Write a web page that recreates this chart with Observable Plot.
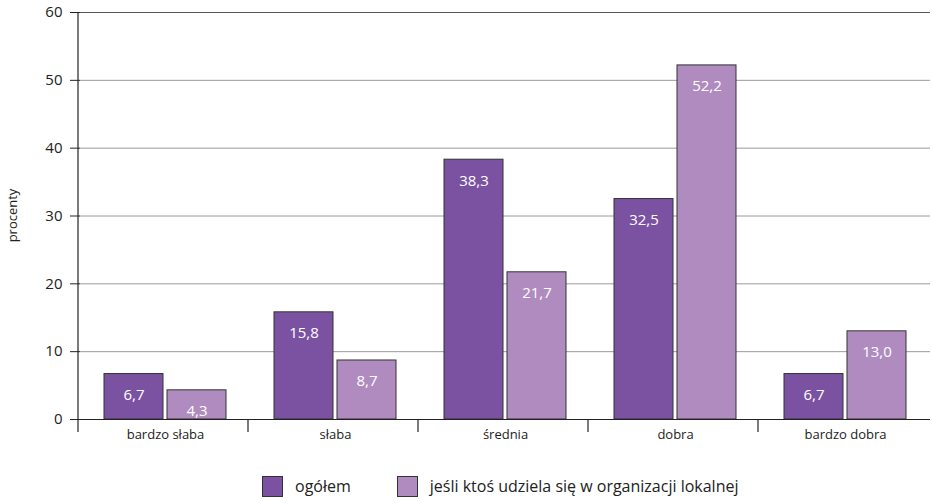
<!DOCTYPE html>
<html>
<head>
<meta charset="utf-8">
<script src="https://cdn.jsdelivr.net/npm/d3@7"></script>
<script src="https://cdn.jsdelivr.net/npm/@observablehq/plot@0.6"></script>
<style>
  body { margin: 0; background: #fff; font-family: "Open Sans", "Noto Sans", sans-serif; }
  #chart svg { display: block; }
  [aria-label^="fx-axis"] text { font-size: 13px; }
  [aria-label^="y-axis"] text { font-size: 15px; }
  .legend { display: flex; align-items: center; margin-top: 20px; padding-left: 262px; font-size: 16px; color: #222; }
  .legend .sw { width: 21px; height: 21px; border: 1px solid #333; box-sizing: border-box; margin-right: 12px; }
  .legend .item { display: flex; align-items: center; margin-right: 46px; }
</style>
</head>
<body>
<div id="chart"></div>
<script>
const categories = ["bardzo słaba", "słaba", "średnia", "dobra", "bardzo dobra"];
const series = ["ogółem", "jeśli ktoś udziela się w organizacji lokalnej"];
const ogolem = [6.7, 15.8, 38.3, 32.5, 6.7];
const lokalnej = [4.3, 8.7, 21.7, 52.2, 13.0];
const yTicks = [0, 10, 20, 30, 40, 50, 60];
const yLabel = "procenty";
const colors = ["#7b52a1", "#b08bbf"];

const data = [];
categories.forEach((c, i) => {
  data.push({cat: c, series: series[0], value: ogolem[i]});
  data.push({cat: c, series: series[1], value: lokalnej[i]});
});
const fmt = v => v.toFixed(1).replace(".", ",");

const chart = Plot.plot({
  width: 932,
  height: 455,
  marginLeft: 78,
  marginRight: 0,
  marginTop: 12,
  marginBottom: 36,
  style: {fontFamily: "'Open Sans', 'Noto Sans', sans-serif", fontSize: "14px", color: "#222", background: "#fff"},
  fx: {domain: categories, padding: 0, label: null, tickSize: 0, tickPadding: 10, axis: "bottom"},
  x: {domain: series, paddingInner: 0.0625, paddingOuter: 0.367, axis: null},
  y: {domain: [0, 60], ticks: yTicks, tickSize: 10, tickPadding: 8, label: null, tickFormat: d => d},
  color: {domain: series, range: colors},
  marks: [
    Plot.ruleY(yTicks.filter(d => d > 0 && d < 60), {stroke: "#9a9a9a", strokeWidth: 1}),
    Plot.ruleY([60], {stroke: "#555", strokeWidth: 1.2}),
    Plot.barY(data, {fx: "cat", x: "series", y: "value", fill: "series", stroke: "#333", strokeWidth: 1}),
    Plot.ruleY([0], {stroke: "#222", strokeWidth: 1.2}),
    Plot.text(data, {fx: "cat", x: "series", y: "value", text: d => fmt(d.value), dy: 21, fill: "#fff", fontSize: 15})
  ]
});

// axis line, category boundary ticks and y label from the plot's own scales
const fxs = chart.scale("fx");
const ys = chart.scale("y");
const y0 = ys.range[0], y60 = ys.range[1];
const svg = d3.select(chart);
const g = svg.append("g").attr("stroke", "#222").attr("stroke-width", 1.2);
g.append("line").attr("x1", fxs.range[0]).attr("x2", fxs.range[0]).attr("y1", y60).attr("y2", y0 + 13);
for (let i = 1; i < categories.length; i++) {
  const x = fxs.range[0] + i * fxs.step;
  g.append("line").attr("x1", x).attr("x2", x).attr("y1", y0).attr("y2", y0 + 13);
}
svg.append("text")
  .attr("transform", `translate(14,${(y0 + y60) / 2}) rotate(-90)`)
  .attr("text-anchor", "middle")
  .attr("dominant-baseline", "middle")
  .attr("font-size", 13)
  .attr("fill", "#222")
  .text(yLabel);

document.getElementById("chart").append(chart);

const legend = d3.select("body").append("div").attr("class", "legend");
series.forEach((s, i) => {
  const it = legend.append("div").attr("class", "item");
  it.append("div").attr("class", "sw").style("background", colors[i]);
  it.append("span").text(s);
});
</script>
</body>
</html>
